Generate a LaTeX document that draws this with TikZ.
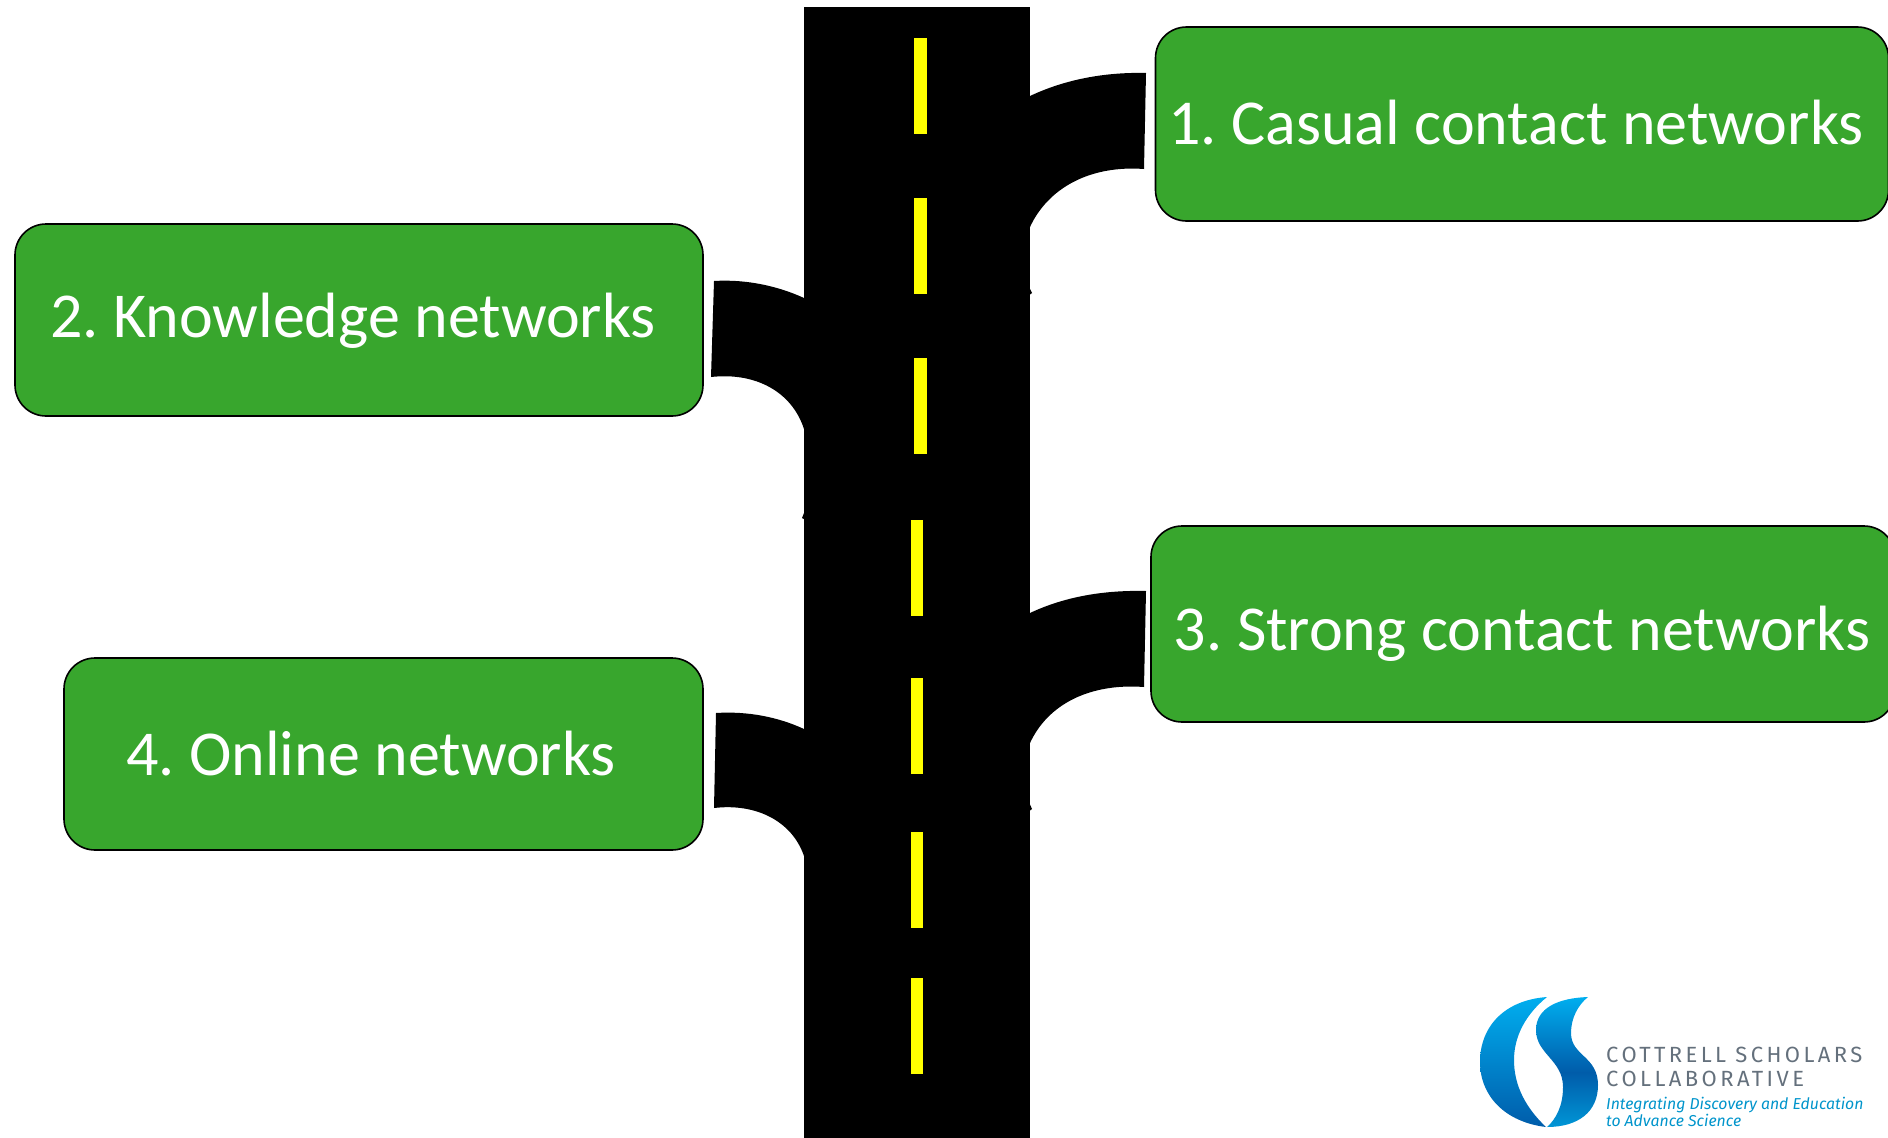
\documentclass[tikz,border=0pt]{standalone}
\usepackage{fontspec}
\setmainfont{Carlito}
\newfontfamily\logofont[LetterSpace=15.5]{Fira Sans}
\newfontfamily\logotagfont{Fira Sans}
\frenchspacing
\definecolor{boxgreen}{RGB}{56,166,45}
\definecolor{roadyellow}{RGB}{255,255,0}
\definecolor{logocyan}{RGB}{0,174,239}
\definecolor{logolow}{RGB}{0,150,214}
\definecolor{logoblue}{RGB}{0,92,170}
\definecolor{logogray}{RGB}{100,112,124}
\pgfdeclareverticalshading{logoshade}{100bp}{color(0bp)=(logolow); color(25bp)=(logolow); color(46bp)=(logoblue); color(75bp)=(logocyan); color(100bp)=(logocyan)}
\tikzset{
  netbox/.style={draw=black,line width=1.6pt,fill=boxgreen,rounded corners=31pt,inner sep=0pt},
  nettext/.style={text=white,inner sep=0pt,font=\fontsize{64}{76}\selectfont},
  logotext/.style={anchor=base west,inner sep=0pt,text=logogray,font=\logofont\fontsize{22}{26}\selectfont},
  logotag/.style={anchor=base west,inner sep=0pt,text=logocyan!85!black,font=\logotagfont\itshape\fontsize{15.8}{20}\selectfont}
}

\begin{document}
\begin{tikzpicture}[x=1pt,y=-1pt]
\useasboundingbox (0,0) rectangle (1888,1138);
\clip (0,0) rectangle (1888,1138);
% road
\fill (804,7) rectangle (1030,1138);
\fill (1028,285) -- (1032,293) -- (1028,296) -- cycle;
\fill (806,508) -- (802,518) -- (806,520) -- cycle;
\fill (1028,800) -- (1032,809) -- (1028,812) -- cycle;
% branches
\fill (1030,96) .. controls (1066,79) and (1106,72) .. (1146,73) -- (1144,169) .. controls (1090,165) and (1048,188) .. (1030,227) -- cycle;
\fill (804,298) .. controls (778,286) and (746,279) .. (714,281) -- (711,377) .. controls (756,372) and (792,392) .. (804,429) -- cycle;
\fill (1030,613) .. controls (1066,596) and (1106,590) .. (1146,591) -- (1144,687) .. controls (1090,683) and (1048,704) .. (1030,743) -- cycle;
\fill (804,729) .. controls (778,717) and (748,711) .. (716,713) -- (714,808) .. controls (756,803) and (792,821) .. (804,856) -- cycle;
% lane marks
\fill[roadyellow] (914,38) rectangle (926.5,134);
\fill[roadyellow] (914,198) rectangle (926.5,294);
\fill[roadyellow] (914,358) rectangle (926.5,454);
\fill[roadyellow] (910.5,520) rectangle (923,616);
\fill[roadyellow] (910.5,678) rectangle (923,774);
\fill[roadyellow] (910.5,832) rectangle (923,928);
\fill[roadyellow] (910.5,978) rectangle (923,1074);
% boxes
\node[netbox,minimum width=733pt,minimum height=194pt] (box1) at (1522,124) {};
\node[netbox,minimum width=688pt,minimum height=192pt] (box2) at (359,320) {};
\node[netbox,minimum width=744pt,minimum height=196pt] (box3) at (1523,624) {};
\node[netbox,minimum width=639pt,minimum height=192pt] (box4) at (383.5,754) {};
\node[nettext] (text1) at (1516,123) {1. Casual contact networks};
\node[nettext] (text2) at (353,321) {2. Knowledge networks};
\node[nettext] (text3) at (1522,634) {3. Strong contact networks};
\node[nettext] (text4) at (371,754) {4. Online networks};
% logo
\shade[top color=logocyan,bottom color=logoblue] (1547,997) .. controls (1505,1000) and (1480,1026) .. (1480,1062) .. controls (1480,1096) and (1505,1122) .. (1546,1127) .. controls (1526,1108) and (1514,1086) .. (1514,1060) .. controls (1514,1036) and (1526,1014) .. (1547,997) -- cycle;
\shade[shading=logoshade] (1588,997) .. controls (1558,998) and (1536,1008) .. (1536,1030) .. controls (1536,1054) and (1563,1060) .. (1563,1087) .. controls (1563,1106) and (1556,1119) .. (1547,1127) .. controls (1578,1127) and (1598,1112) .. (1598,1085) .. controls (1598,1056) and (1571,1056) .. (1571,1033) .. controls (1571,1018) and (1578,1005) .. (1588,997) -- cycle;
\node[logotext] (logoname1) at (1606,1062) {COTTRELL SCHOLARS};
\node[logotext] (logoname2) at (1606,1086) {COLLABORATIVE};
\node[logotag] (logotag1) at (1606,1109) {Integrating Discovery and Education};
\node[logotag] (logotag2) at (1606,1126) {to Advance Science};
\end{tikzpicture}
\end{document}
